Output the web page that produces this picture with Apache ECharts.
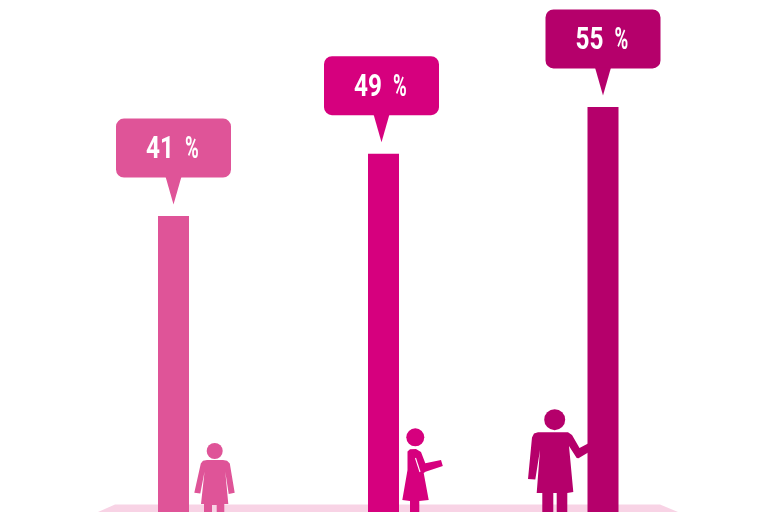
<!DOCTYPE html>
<html>
<head>
<meta charset="utf-8">
<style>html,body{margin:0;padding:0;background:#fff}#chart{width:768px;height:512px}</style>
<script src="https://cdn.jsdelivr.net/npm/echarts@6/dist/echarts.min.js"></script>
</head>
<body>
<div id="chart"></div>
<script>
// chart values
var groups = ['Femme A', 'Fille', 'Femme B'];
var values = [41, 49, 55];
var colors = ['#df5498', '#d6007e', '#b5006b'];

// layout (px), the bars are not evenly spaced in the reference
var slotX = [173.5, 383.5, 603];
var tailNudge = [0, -2, 0];
var barW = 31;

var points = values.map(function (v, i) { return [slotX[i], v, i]; });

function poly(points, fill) {
    return { type: 'polygon', shape: { points: points }, style: { fill: fill } };
}
function head(cx, cy, r, fill) {
    return { type: 'circle', shape: { cx: cx, cy: cy, r: r }, style: { fill: fill } };
}

var person1 = [
    head(214.7, 451, 8, colors[0]),
    poly([[207, 460], [203, 460.8], [200.8, 463.5], [194.3, 492.7], [200.3, 493.5], [204.5, 471.7], [201, 504], [204, 504],
        [204, 512], [212, 512], [212, 505], [216.7, 505], [216.7, 512], [224.3, 512], [224.3, 504], [228.3, 504],
        [225.3, 471.7], [228.7, 494], [234.7, 492.7], [229.8, 463.5], [227, 460.8], [223, 460]], colors[0])
];
var person2 = [
    head(415.3, 437.3, 9, colors[1]),
    poly([[410, 449.3], [407.5, 451.5], [407.5, 470], [402.3, 500], [410, 501], [410, 512], [419.3, 512], [419.3, 501],
        [428.7, 500], [423.7, 473], [425.5, 471.7], [442.8, 466], [441, 460], [425.3, 463.3], [421, 452], [416, 449]], colors[1]),
    { type: 'line', shape: { x1: 415.5, y1: 458, x2: 420, y2: 472 }, style: { stroke: '#fff', lineWidth: 1.1 } }
];
var person3 = [
    head(554.7, 419.7, 10.5, colors[2]),
    poly([[538, 432.3], [534, 433.5], [532, 437.5], [528, 479], [535.3, 479.5], [540, 450], [536.7, 493], [542.3, 493],
        [542.3, 512], [553.3, 512], [553.3, 493], [556.7, 493], [556.7, 512], [567.3, 512], [567.3, 493], [573.3, 492],
        [569, 446], [576.7, 458], [578.5, 458.3], [589, 452], [589, 443], [579.5, 448], [572, 435], [568, 432.3]], colors[2])
];

function label(text, x, y, align, sx) {
    return {
        type: 'text',
        x: x,
        y: y,
        scaleX: sx,
        style: {
            text: text,
            align: align,
            verticalAlign: 'middle',
            fill: '#fff',
            fontFamily: 'Roboto',
            fontWeight: 'bold',
            fontSize: 32
        }
    };
}

var renderCallout = function (params, api) {
    var i = api.value(2);
    var p = api.coord([api.value(0), api.value(1)]);
    var cx = p[0] + tailNudge[i];
    var top = p[1] - 97.5;
    var fill = colors[i];
    return {
        type: 'group',
        children: [
            { type: 'rect', shape: { x: cx - 57.5, y: top, width: 115, height: 59, r: 8 }, style: { fill: fill } },
            poly([[cx - 8, top + 58], [cx + 8, top + 58], [cx, top + 86]], fill),
            label(String(api.value(1)), cx + 0.5, top + 31.5, 'right', 0.76),
            label('%', cx + 11.5, top + 31.5, 'left', 0.58)
        ]
    };
};

var myChart = echarts.init(document.getElementById('chart'), null, { renderer: 'canvas' });
var option = {
    animation: false,
    backgroundColor: '#fff',
    grid: { left: 0, top: 0, width: 768, height: 536, outerBoundsMode: 'none' },
    xAxis: { type: 'value', min: 0, max: 768, show: false },
    yAxis: { type: 'value', min: 0, max: 68.7, show: false },
    graphic: {
        elements: [
            { type: 'polygon', z: 0, shape: { points: [[98, 512], [115, 504.5], [660, 504.5], [678, 512]] }, style: { fill: '#f8d3e5' } },
            { type: 'group', z: 1, children: person1.concat(person2, person3) }
        ]
    },
    series: [
        {
            type: 'bar',
            name: 'Part',
            barWidth: barW,
            z: 3,
            data: points.map(function (p, i) {
                return { name: groups[i], value: [p[0], p[1]], itemStyle: { color: colors[i] } };
            })
        },
        {
            type: 'custom',
            name: 'Bulles',
            z: 4,
            clip: false,
            encode: { x: 0, y: 1 },
            data: points,
            renderItem: renderCallout
        }
    ]
};
myChart.setOption(option);
</script>
</body>
</html>
